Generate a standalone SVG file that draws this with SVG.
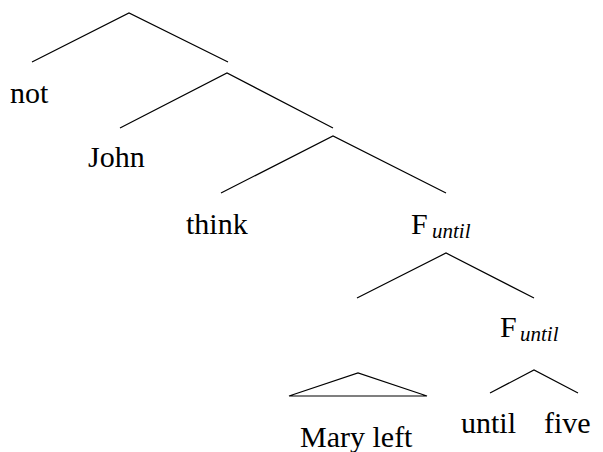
<svg xmlns="http://www.w3.org/2000/svg" width="603" height="452" viewBox="0 0 603 452">
<style>
.e{stroke:#000;stroke-width:1.2;fill:none}
.t{font-family:'Times New Roman','Liberation Serif',serif;font-size:30px;fill:#000}
.s{font-family:'Times New Roman','Liberation Serif',serif;font-size:21px;font-style:italic;fill:#000}
</style>
<rect width="603" height="452" fill="#fff"/>
<g id="connectors">
<path class="e" d="M32,62 L129,13 L228,62"/>
<path class="e" d="M120,128 L227,73 L333,128"/>
<path class="e" d="M221,193 L333,136 L446,193"/>
<path class="e" d="M357,298 L446,253 L534,298"/>
<path class="e" d="M289,396 L358,373 L427,396 Z"/>
<path class="e" d="M490,393 L534,370 L578,393"/>
</g>
<g id="n-not"><text class="t" x="10" y="103">not</text></g>
<g id="n-john"><text class="t" x="88" y="167">John</text></g>
<g id="n-think"><text class="t" x="186" y="234">think</text></g>
<g id="n-funtil1"><text class="t" x="411" y="234">F</text><text class="s" x="432" y="238">until</text></g>
<g id="n-funtil2"><text class="t" x="500" y="337">F</text><text class="s" x="520" y="341">until</text></g>
<g id="n-maryleft"><text class="t" x="300" y="447">Mary left</text></g>
<g id="n-until"><text class="t" x="461" y="433">until</text></g>
<g id="n-five"><text class="t" x="544" y="433">five</text></g>
</svg>
